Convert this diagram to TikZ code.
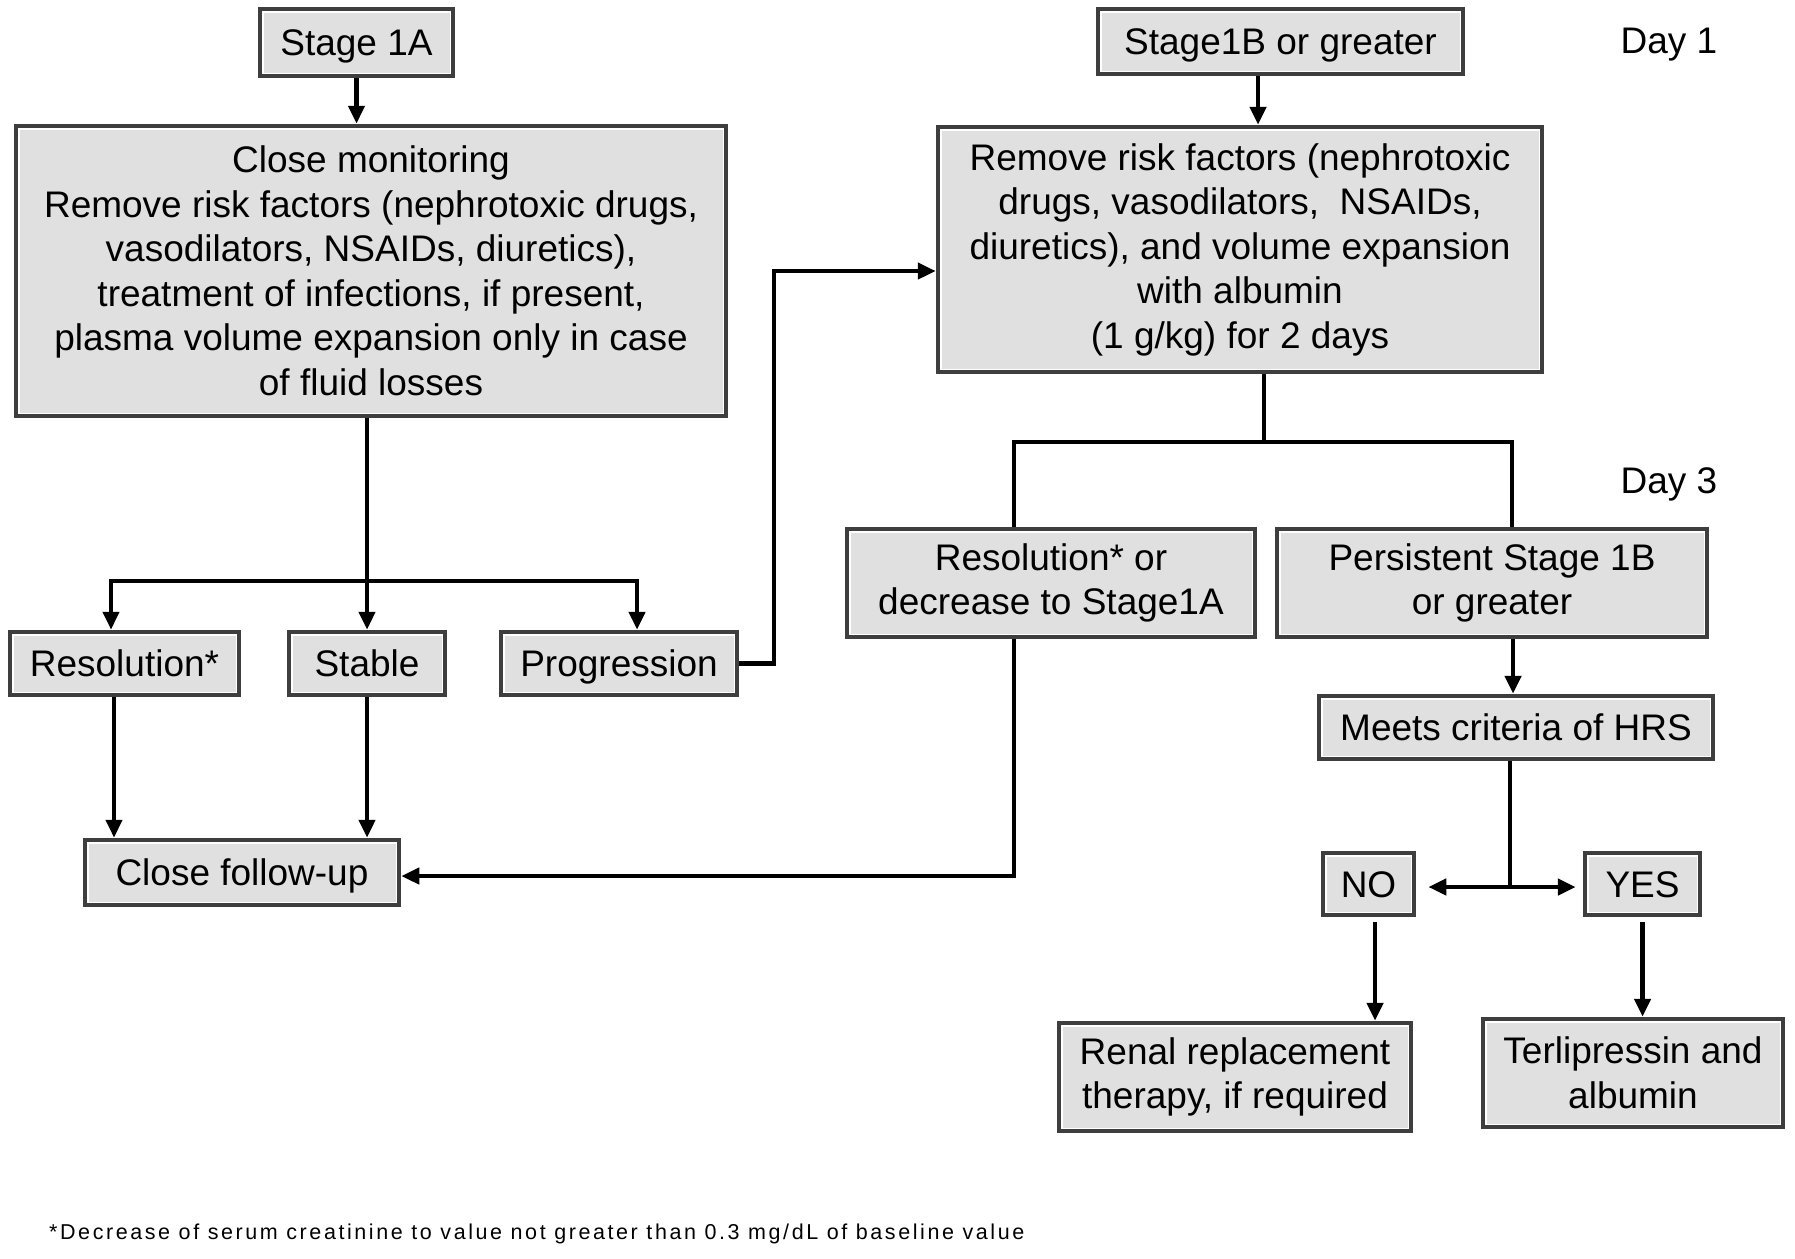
\documentclass[tikz,border=0pt]{standalone}
\usepackage{fontspec}
\setmainfont{Liberation Sans}
\newfontfamily\footfont[LetterSpace=12]{Liberation Sans}
\usetikzlibrary{arrows.meta}
\definecolor{boxfill}{RGB}{224,224,224}
\definecolor{boxline}{RGB}{62,62,62}
\tikzset{
  fbox/.style={rectangle, fill=boxfill, draw=boxline, line width=4.5pt, inner sep=0pt,
    align=center, font=\fontsize{37}{44.5}\selectfont,
    path picture={\draw[white, line width=7pt] (path picture bounding box.south west) rectangle (path picture bounding box.north east);}},
  oneline/.style={text height=26pt, text depth=0pt},
  conn/.style={line width=4.7pt, draw=black},
  arr/.style={conn, -{Triangle[length=18pt,width=16pt]}},
  lbl/.style={font=\fontsize{37}{44.5}\selectfont, inner sep=0pt, oneline}
}
\begin{document}
\begin{tikzpicture}[x=1pt,y=-1pt]
\fill[white] (0,0) rectangle (1795,1258);
\useasboundingbox (0,0) rectangle (1795,1258);

% nodes
\node[fbox, oneline, minimum width=193pt, minimum height=67pt] (s1a) at (356.5,42.5) {Stage 1A};
\node[fbox, minimum width=710pt, minimum height=290pt] (cm) at (371,271) {Close monitoring\\Remove risk factors (nephrotoxic drugs,\\vasodilators, NSAIDs, diuretics),\\treatment of infections, if present,\\plasma volume expansion only in case\\of fluid losses};
\node[fbox, oneline, minimum width=365pt, minimum height=65pt] (s1b) at (1280.5,41.5) {Stage1B or greater};
\node[fbox, minimum width=604pt, minimum height=245pt] (rr) at (1240,249.5) {Remove risk factors (nephrotoxic\\drugs, vasodilators,\ \ NSAIDs,\\diuretics), and volume expansion\\with albumin\\(1 g/kg) for 2 days};
\node[fbox, oneline, minimum width=229pt, minimum height=63pt] (res) at (124.5,663.5) {Resolution*};
\node[fbox, oneline, minimum width=156pt, minimum height=63pt] (stab) at (367,663.5) {Stable};
\node[fbox, oneline, minimum width=236pt, minimum height=63pt] (prog) at (619,663.5) {Progression};
\node[fbox, oneline, minimum width=314pt, minimum height=65pt] (cfu) at (242,872.5) {Close follow-up};
\node[fbox, minimum width=408pt, minimum height=108pt] (rdec) at (1051,583) {Resolution* or\\decrease to Stage1A};
\node[fbox, minimum width=430pt, minimum height=108pt] (pers) at (1492,583) {Persistent Stage 1B\\or greater};
\node[fbox, oneline, minimum width=394pt, minimum height=63pt] (hrs) at (1516,727.5) {Meets criteria of HRS};
\node[fbox, oneline, minimum width=91pt, minimum height=62pt] (no) at (1368.5,884) {NO};
\node[fbox, oneline, minimum width=115pt, minimum height=62pt] (yes) at (1642.5,884) {YES};
\node[fbox, minimum width=352pt, minimum height=108pt] (renal) at (1235,1077) {Renal replacement\\therapy, if required};
\node[fbox, minimum width=300pt, minimum height=108pt] (terli) at (1633,1073) {Terlipressin and\\albumin};
\node[lbl] (d1) at (1669,40) {Day 1};
\node[lbl] (d3) at (1669,480) {Day 3};
\node[anchor=west, inner sep=0pt, font=\footfont\fontsize{21.5}{25}\selectfont] (fn) at (49,1234) {*Decrease of serum creatinine to value not greater than 0.3 mg/dL of baseline value};

% helper coordinates
\coordinate (bl) at (111,581);
\coordinate (br) at (637,581);
\coordinate (rx) at (114,0);
\coordinate (pk) at (774,271);
\coordinate (sx) at (1258,0);
\coordinate (rs) at (1264,442);
\coordinate (lx) at (1014,442);
\coordinate (rx2) at (1512,442);
\coordinate (fy) at (1014,876);
\coordinate (px) at (1513,0);
\coordinate (hs) at (1510,887);
\coordinate (nl) at ([xshift=12pt]no.east);
\coordinate (yl) at ([xshift=-7pt]yes.west);
\coordinate (nx) at (1375,0);
\coordinate (nb) at ([yshift=-5pt]no.south);
\coordinate (yb) at ([yshift=-5pt]yes.south);

% connectors left
\draw[arr] (s1a.south) -- (s1a.south |- cm.north);
\draw[arr] (cm.south -| stab.north) -- (stab.north);
\draw[arr] (br) -- (bl) -- (bl |- res.north);
\draw[arr] (bl) -- (br) -- (br |- prog.north);
\draw[arr] (rx |- res.south) -- (rx |- cfu.north);
\draw[arr] (stab.south) -- (stab.south |- cfu.north);
\draw[arr] (prog.east) -| (pk) -- (pk -| rr.west);

% connectors right
\draw[arr] (sx |- s1b.south) -- (sx |- rr.north);
\draw[conn] (rs |- rr.south) -- (rs);
\draw[conn] (lx |- rdec.north) -- (lx) -- (rx2) -- (rx2 |- pers.north);
\draw[arr] (lx |- rdec.south) -- (fy) -- (fy -| cfu.east);
\draw[arr] (px |- pers.south) -- (px |- hrs.north);
\draw[conn] (hs |- hrs.south) -- (hs);
\draw[arr] (hs) -- (nl |- hs);
\draw[arr] (hs) -- (yl |- hs);
\draw[arr] (nx |- nb) -- (nx |- renal.north);
\draw[arr] (yb) -- (yb |- terli.north);
\end{tikzpicture}
\end{document}
